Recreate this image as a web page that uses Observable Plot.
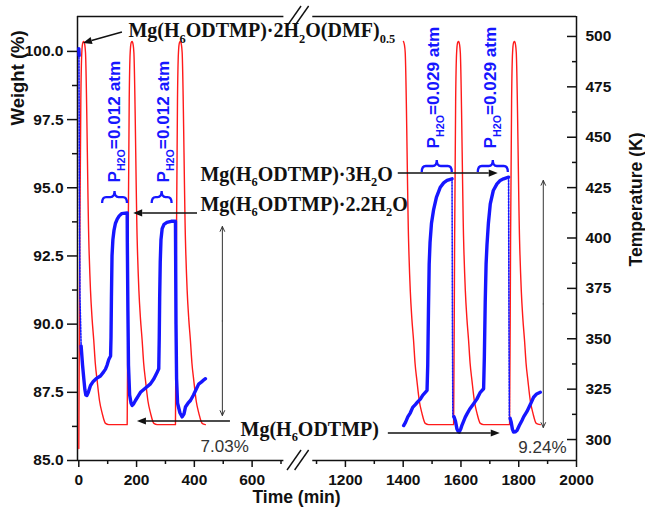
<!DOCTYPE html>
<html><head><meta charset="utf-8">
<script src="https://cdn.jsdelivr.net/npm/d3@7"></script>
<script src="https://cdn.jsdelivr.net/npm/@observablehq/plot@0.6"></script>
<style>html,body{margin:0;padding:0;background:#fff;overflow:hidden}</style>
</head><body><div id="chart"></div>
<script>
// ---------------- data ----------------
// temperature (K) vs time (min)
const redSeg1 = [[0,295.5],[3.5,400],[7,468],[10.4,492],[14,497],[17.3,497.5],[20.5,496],[23.2,492],[34.6,399],[40.5,374],[46,360],[51.9,349],[57,338],[63.7,329],[72,319],[81,313],[92.4,308],[103.8,307.4],[167.5,307.4],
[171,400],[174.5,468],[177.9,492],[181.5,497],[184.8,497.5],[188,496],[190.7,492],[202.1,399],[208,374],[213.5,360],[219.4,349],[224.5,338],[231.2,329],[239.5,319],[248.5,313],[259.9,308],[271.3,307.4],[334.6,307.4],
[338.1,400],[341.6,468],[345,492],[348.6,497],[351.9,497.5],[355.1,496],[357.8,492],[369.2,399],[375.1,374],[380.6,360],[386.5,349],[391.6,338],[398.3,329],[406.6,319],[415.6,313],[427,308],[438,307.4]];
const redSeg2 = [[1401,497.5],[1404,496],[1407,492],[1418.6,399],[1424.5,374],[1430,360],[1436,349],[1441,338],[1447.7,329],[1456,319],[1465,313],[1476.4,308],[1487.8,307.4],[1574.6,307.4],
[1578.1,400],[1581.6,468],[1585,492],[1588.6,497],[1591.9,497.5],[1595.1,496],[1597.8,492],[1609.2,399],[1615.1,374],[1620.6,360],[1626.5,349],[1631.6,338],[1638.3,329],[1646.6,319],[1655.6,313],[1667,308],[1678.4,307.4],[1768.3,307.4],
[1771.8,400],[1775.3,468],[1778.7,492],[1782.3,497],[1785.6,497.5],[1788.8,496],[1791.5,492],[1802.9,399],[1808.8,374],[1814.3,360],[1820.2,349],[1825.3,338],[1832,329],[1840.3,319],[1849.3,313],[1860.7,308],[1874.6,307.4]];
// weight (%) vs time (min)
const blueStub = [[0,100.1],[1.2,99.85]];
const blueDrop0 = [[0.5,100.0],[2,95],[4,91],[8,89.2]];
const blueRun1 = [[8,89.2],[13,88.5],[17.3,88.0],[21,87.6],[24.2,87.4],[28,87.38],[33,87.5],[40.5,87.75],[50,87.9],[60,88.0],[75,88.1],[86,88.25],[92.4,88.35],[98,88.5],[103.8,88.7],[110,88.83],[111.5,89.5],[113,91],[115,92.5],[118,93.1],[122,93.45],[127,93.7],[133,93.85],[140,93.97],[148,94.05],[167.5,94.08],
[168,93],[170,90.5],[172,88.5],[176,87.4],[181,87.1],[184.8,87.02],[190,87.08],[196.2,87.2],[205,87.35],[213.5,87.5],[230,87.65],[248,87.81],[260,88.0],[271.3,88.24],[276.8,88.36],[278.5,89.5],[280,91],[282,92.3],[284.5,93.1],[288.6,93.5],[295,93.66],[305,93.73],[320,93.77],[334.6,93.77],
[335,93],[336.5,90],[338.5,88],[342,87.1],[350,86.75],[357.8,86.6],[364,86.7],[369.2,86.96],[378,87.1],[386.5,87.2],[397,87.4],[406,87.6],[415,87.8],[425,87.88],[432,87.95],[438.4,88.0]];
const blueRun2 = [[1401.6,86.28],[1408,86.4],[1416,86.6],[1424.8,86.75],[1433,86.95],[1442,87.05],[1450,87.15],[1459.4,87.25],[1468,87.4],[1476.6,87.5],[1482.6,87.57],[1485,88.5],[1487.5,90.5],[1490,92.2],[1493,93.0],[1498,93.7],[1505.4,94.2],[1515,94.65],[1528.6,95.02],[1540,95.18],[1551.8,95.27],[1569.1,95.33]];
const blueDropA = [[1569.1,95.33],[1570.5,90],[1572,86.6]];
const blueRun3 = [[1576,86.6],[1581,86.45],[1586,86.16],[1591,86.06],[1594,86.04],[1599,86.15],[1603.7,86.3],[1615,86.59],[1621,86.71],[1630,86.88],[1643.8,87.08],[1655,87.25],[1667,87.5],[1678.4,87.63],[1681,88.8],[1684,90.8],[1687,92.2],[1690.1,92.9],[1695,93.7],[1701.5,94.41],[1712,94.9],[1724.7,95.14],[1736,95.27],[1747.5,95.33],[1764.9,95.39]];
const blueDropB = [[1764.9,95.39],[1766.3,90],[1767.5,86.6]];
const blueRun4 = [[1770,86.55],[1774,86.4],[1778,86.15],[1782.2,86.04],[1788,86.05],[1794,86.1],[1802,86.28],[1811.2,86.47],[1817,86.6],[1828.6,86.8],[1840,87.05],[1851.4,87.32],[1862,87.44],[1874.6,87.5]];

// axes
const yDomain = [85, 101.28];
const tempDomain = [289.6, 509.9];
const weightTicks = [85, 87.5, 90, 92.5, 95, 97.5, 100];
const weightMinor = [86.25, 88.75, 91.25, 93.75, 96.25, 98.75];
const tempTicks = [300, 325, 350, 375, 400, 425, 450, 475, 500];
const tempMinor = [312.5, 337.5, 362.5, 387.5, 412.5, 437.5, 462.5, 487.5];
const timeTicks = [0, 200, 400, 600, 1200, 1400, 1600, 1800, 2000];
const timeMinor = [100, 300, 500, 700, 1100, 1300, 1500, 1700, 1900];
const timeDomain = [-4.5, 2000];
const breakGap = [710, 810];      // axis-position gap (min, before shift)
const breakShift = 277;           // minutes removed by the axis break
const breakCenter = 760;

// annotations
const formulaLabels = ["Mg(H_{6}ODTMP)·2H_{2}O(DMF)_{0.5}", "Mg(H_{6}ODTMP)·3H_{2}O", "Mg(H_{6}ODTMP)·2.2H_{2}O", "Mg(H_{6}ODTMP)"];
const formulaT = [172, 421, 421, 560];
const formulaW = [100.75, 95.5, 94.39, 86.14];
const arrowFromT = [151, 411, 1383, 525, 1348.6];
const arrowFromW = [100.69, 94.06, 95.52, 86.43, 85.99];
const arrowToT = [16, 190, 1729, 203, 1736];
const arrowToW = [100.29, 94.06, 95.52, 86.43, 85.99];
const pressLabels = ["P_{H2O}=0.012 atm", "P_{H2O}=0.012 atm", "P_{H2O}=0.029 atm", "P_{H2O}=0.029 atm"];
const pressT = [124, 293, 1504, 1701.6];
const pressW = [95.19, 95.19, 96.44, 96.44];
const braceStart = [82.4, 254, 1466, 1660];
const braceEnd = [168.5, 323, 1570, 1764];
const braceW = [94.64, 94.64, 95.78, 95.78];
const changeLabels = ["7.03%", "9.24%"];
const changeT = [497, 1885];
const changeLow = [86.65, 86.21];
const changeHigh = [93.58, 95.27];
const changeLabelT = [505, 1882];
const changeLabelW = [85.5, 85.48];

// ---------------- helpers ----------------
const BLUE = "#1616ff", RED = "#ff1a1a", INK = "#111";
const toV = t => (t > breakCenter ? t - breakShift : t);
const fromV = v => (v > breakCenter ? v + breakShift : v);
const tempToW = T => yDomain[0] + (T - tempDomain[0]) / (tempDomain[1] - tempDomain[0]) * (yDomain[1] - yDomain[0]);
const wToTemp = w => tempDomain[0] + (w - yDomain[0]) / (yDomain[1] - yDomain[0]) * (tempDomain[1] - tempDomain[0]);
const xDomain = [toV(timeDomain[0]), toV(timeDomain[1])];

const tag = (arr, key) => arr.map(([t, v]) => ({t, v, key}));
const redData = [...tag(redSeg1, "a"), ...tag(redSeg2, "b")];
const blueThick = [...tag(blueStub, "s"), ...tag(blueRun1, "r1"), ...tag(blueRun2, "r2"), ...tag(blueRun3, "r3"), ...tag(blueRun4, "r4")];
const blueThin = [...tag(blueDrop0, "d0"), ...tag(blueDropA, "dA"), ...tag(blueDropB, "dB")];

function breakMark(index, {x, y}) {
  const g = d3.create("svg:g").attr("stroke", INK).attr("stroke-width", 1.4);
  const xc = x(breakCenter);
  for (const yv of yDomain) {
    const yy = y(yv);
    for (const off of [-3.8, 3.8])
      g.append("line").attr("x1", xc + off - 7).attr("y1", yy + 10).attr("x2", xc + off + 7).attr("y2", yy - 10);
  }
  return g.node();
}
function braceMark(index, {x, y}) {
  const g = d3.create("svg:g").attr("fill", "none").attr("stroke", BLUE).attr("stroke-width", 2.3);
  braceStart.forEach((s, i) => {
    const x1 = x(toV(s)), x2 = x(toV(braceEnd[i])), yy = y(braceW[i]);
    const xm = (x1 + x2) / 2, h = 6, r = 4;
    g.append("path").attr("d",
      `M${x1},${yy + h}Q${x1},${yy} ${x1 + r},${yy}L${xm - r},${yy}Q${xm},${yy} ${xm},${yy - h}` +
      `Q${xm},${yy} ${xm + r},${yy}L${x2 - r},${yy}Q${x2},${yy} ${x2},${yy + h}`);
  });
  return g.node();
}
function arrowMark(index, {x, y}) {
  const g = d3.create("svg:g");
  arrowFromT.forEach((t0, i) => {
    const x1 = x(toV(t0)), y1 = y(arrowFromW[i]), x2 = x(toV(arrowToT[i])), y2 = y(arrowToW[i]);
    const a = Math.atan2(y2 - y1, x2 - x1), L = 9, H = 3.6;
    const bx = x2 - L * Math.cos(a), by = y2 - L * Math.sin(a);
    g.append("line").attr("x1", x1).attr("y1", y1).attr("x2", bx).attr("y2", by)
      .attr("stroke", INK).attr("stroke-width", 1.5);
    g.append("path").attr("fill", INK).attr("d",
      `M${x2},${y2}L${bx - H * Math.sin(a)},${by + H * Math.cos(a)}L${bx + H * Math.sin(a)},${by - H * Math.cos(a)}Z`);
  });
  return g.node();
}

const tickFont = {fontSize: 15.5, fontWeight: "bold", fill: INK, stroke: INK, strokeWidth: 1.5};

const plot = Plot.plot({
  width: 645, height: 514,
  marginLeft: 77, marginRight: 69, marginTop: 16, marginBottom: 54,
  x: {domain: xDomain},
  y: {domain: yDomain},
  style: {background: "white", color: INK, fontFamily: "'Liberation Sans', Arial, sans-serif", overflow: "visible"},
  marks: [
    // frame
    Plot.ruleX([xDomain[0], xDomain[1]], {stroke: INK, strokeWidth: 1.5}),
    Plot.ruleY([[xDomain[0], breakGap[0]], [breakGap[1], xDomain[1]]], {y: yDomain[0], x1: d => d[0], x2: d => d[1], stroke: INK, strokeWidth: 1.5}),
    Plot.ruleY([[xDomain[0], breakGap[0]], [breakGap[1], xDomain[1]]], {y: yDomain[1], x1: d => d[0], x2: d => d[1], stroke: INK, strokeWidth: 1.5}),
    breakMark,
    // axes
    Plot.axisY(weightTicks, {anchor: "left", tickSize: 10, tickPadding: 4, tickFormat: d3.format(".1f"), label: null, ...tickFont}),
    Plot.axisY(weightMinor, {anchor: "left", tickSize: 5, tickFormat: () => "", label: null, stroke: INK, strokeWidth: 1.5}),
    Plot.axisY(tempTicks.map(tempToW), {anchor: "right", tickSize: -10, tickPadding: 19, tickFormat: w => String(Math.round(wToTemp(w))), label: null, ...tickFont}),
    Plot.axisY(tempMinor.map(tempToW), {anchor: "right", tickSize: -5, tickFormat: () => "", label: null, stroke: INK, strokeWidth: 1.5}),
    Plot.axisX(timeTicks.map(toV), {anchor: "bottom", tickSize: 7, tickPadding: 6, tickFormat: v => String(Math.round(fromV(v))), label: null, ...tickFont}),
    Plot.axisX(timeMinor.map(toV), {anchor: "bottom", tickSize: 4, tickFormat: () => "", label: null, stroke: INK, strokeWidth: 1.5}),
    // axis titles
    Plot.text(["Weight (%)"], {frameAnchor: "left", dx: -59, dy: -113, rotate: -90, fontSize: 18.5, fontWeight: "bold", fill: INK}),
    Plot.text(["Temperature (K)"], {frameAnchor: "right", dx: 60, dy: -106, rotate: -90, fontSize: 17.5, fontWeight: "bold", fill: INK}),
    Plot.text(["Time (min)"], {frameAnchor: "bottom", dx: -30.5, dy: 42, fontSize: 17.5, fontWeight: "bold", fill: INK}),
    // series
    Plot.line(redData, {x: d => toV(d.t), y: d => tempToW(d.v), z: "key", stroke: RED, strokeWidth: 1.4, curve: "monotone-x"}),
    Plot.line(blueThin, {x: d => toV(d.t), y: "v", z: "key", stroke: BLUE, strokeWidth: 1.6, strokeDasharray: "1.5,1.5"}),
    Plot.line(blueThick, {x: d => toV(d.t), y: "v", z: "key", stroke: BLUE, strokeWidth: 3.4, strokeLinejoin: "round", strokeLinecap: "round"}),
    // annotations
    arrowMark,
    braceMark,
    Plot.arrow(changeT, {x1: (d, i) => toV(d), x2: (d, i) => toV(d), y1: (d, i) => (changeLow[i] + changeHigh[i]) / 2, y2: (d, i) => changeHigh[i], stroke: "#333", strokeWidth: 1, headLength: 8, headAngle: 50}),
    Plot.arrow(changeT, {x1: (d, i) => toV(d), x2: (d, i) => toV(d), y1: (d, i) => (changeLow[i] + changeHigh[i]) / 2, y2: (d, i) => changeLow[i], stroke: "#333", strokeWidth: 1, headLength: 8, headAngle: 50}),
    Plot.text(changeLabels, {x: (d, i) => toV(changeLabelT[i]), y: (d, i) => changeLabelW[i], text: d => d, fontSize: 17, fill: "#333"}),
    Plot.text(formulaLabels, {x: (d, i) => toV(formulaT[i]), y: (d, i) => formulaW[i], text: d => d, textAnchor: "start", fontSize: 20, fontWeight: "bold", fontFamily: "'Liberation Serif', 'Times New Roman', serif", fill: INK}),
    Plot.text(pressLabels, {x: (d, i) => toV(pressT[i]), y: (d, i) => pressW[i], text: d => d, textAnchor: "start", rotate: -90, fontSize: 17.2, fontWeight: "bold", fill: BLUE})
  ]
});

document.getElementById("chart").appendChild(plot);

// subscripts: turn _{...} into real subscript tspans
plot.querySelectorAll("text").forEach(t => {
  const s = t.textContent;
  if (!s.includes("_{")) return;
  const fs = parseFloat(getComputedStyle(t).fontSize) || 16;
  const shift = fs * 0.28;
  t.textContent = "";
  const parts = s.split(/(_\{[^}]*\})/).filter(p => p);
  let down = false;
  for (const p of parts) {
    const ts = document.createElementNS("http://www.w3.org/2000/svg", "tspan");
    if (p.startsWith("_{")) {
      ts.textContent = p.slice(2, -1);
      ts.setAttribute("font-size", (fs * 0.62).toFixed(1));
      ts.setAttribute("dy", shift.toFixed(1));
      down = true;
    } else {
      ts.textContent = p;
      if (down) { ts.setAttribute("dy", (-shift).toFixed(1)); down = false; }
    }
    t.appendChild(ts);
  }
});
</script>
</body></html>
